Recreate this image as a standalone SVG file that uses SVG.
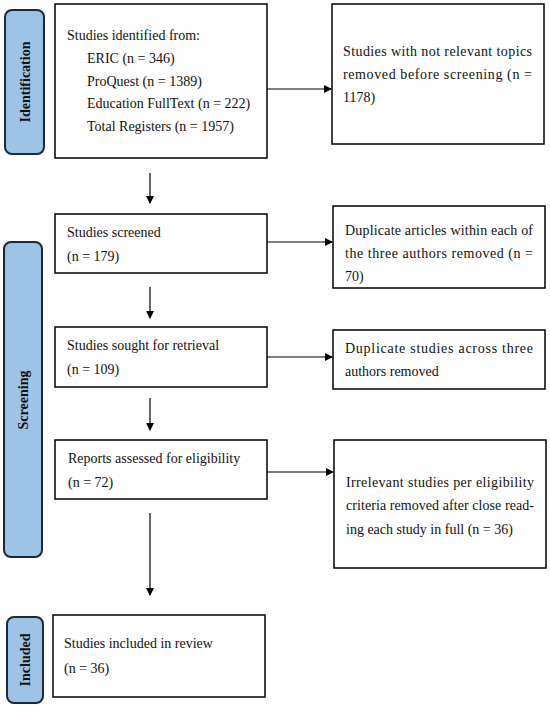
<svg xmlns="http://www.w3.org/2000/svg" width="550" height="707" viewBox="0 0 550 707">
<style>
.box{fill:#fff;stroke:#000;stroke-width:1.5}
.side{fill:#9dc3e6;stroke:#1c2a38;stroke-width:2}
.t{font-family:"Liberation Serif","Times New Roman",serif;font-size:14px;fill:#111}
.s{font-family:"Liberation Serif","Times New Roman",serif;font-size:14px;font-weight:bold;fill:#111}
.c{stroke:#000;stroke-width:1.2;fill:none}
</style>
<defs>
<marker id="ah" markerWidth="8" markerHeight="8" refX="7" refY="4" orient="auto" markerUnits="userSpaceOnUse">
<path d="M0,0 L8,4 L0,8 Z" fill="#000"/>
</marker>
</defs>
<rect width="550" height="707" fill="#fff"/>
<g id="side-identification">
<rect class="side" x="5" y="10" width="39" height="144" rx="7"/>
<text class="s" transform="translate(29.5,82) rotate(-90)" text-anchor="middle">Identification</text>
</g>
<g id="side-screening">
<rect class="side" x="4" y="242" width="38" height="315" rx="7"/>
<text class="s" transform="translate(28,400) rotate(-90)" text-anchor="middle">Screening</text>
</g>
<g id="side-included">
<rect class="side" x="7" y="617" width="36" height="86" rx="7"/>
<text class="s" transform="translate(30,660) rotate(-90)" text-anchor="middle">Included</text>
</g>
<g id="n-identified">
<rect class="box" x="55" y="4" width="212" height="154"/>
<text class="t" x="67" y="40">Studies identified from:</text>
<text class="t" x="87" y="63">ERIC (n = 346)</text>
<text class="t" x="87" y="86">ProQuest (n = 1389)</text>
<text class="t" x="87" y="108">Education FullText (n = 222)</text>
<text class="t" x="87" y="131">Total Registers (n = 1957)</text>
</g>
<g id="n-removed-topics">
<rect class="box" x="332" y="4" width="212" height="140"/>
<text class="t" x="343" y="56" textLength="189" lengthAdjust="spacing">Studies with not relevant topics</text>
<text class="t" x="343" y="79" textLength="189" lengthAdjust="spacing">removed before screening (n =</text>
<text class="t" x="343" y="102">1178)</text>
</g>
<g id="n-screened">
<rect class="box" x="55" y="214" width="212" height="59"/>
<text class="t" x="67" y="237">Studies screened</text>
<text class="t" x="67" y="261">(n = 179)</text>
</g>
<g id="n-dup-within">
<rect class="box" x="333" y="206" width="212" height="82"/>
<text class="t" x="345" y="235" textLength="188" lengthAdjust="spacing">Duplicate articles within each of</text>
<text class="t" x="345" y="258" textLength="188" lengthAdjust="spacing">the three authors removed (n =</text>
<text class="t" x="345" y="281">70)</text>
</g>
<g id="n-sought">
<rect class="box" x="55" y="327" width="212" height="60"/>
<text class="t" x="67" y="350">Studies sought for retrieval</text>
<text class="t" x="67" y="374">(n = 109)</text>
</g>
<g id="n-dup-across">
<rect class="box" x="333" y="330" width="212" height="59"/>
<text class="t" x="345" y="353" textLength="188" lengthAdjust="spacing">Duplicate studies across three</text>
<text class="t" x="345" y="376">authors removed</text>
</g>
<g id="n-reports">
<rect class="box" x="55" y="440" width="212" height="59"/>
<text class="t" x="68" y="463">Reports assessed for eligibility</text>
<text class="t" x="68" y="487">(n = 72)</text>
</g>
<g id="n-irrelevant">
<rect class="box" x="334" y="440" width="212" height="128"/>
<text class="t" x="346" y="487" textLength="188" lengthAdjust="spacing">Irrelevant studies per eligibility</text>
<text class="t" x="346" y="510" textLength="188" lengthAdjust="spacing">criteria removed after close read-</text>
<text class="t" x="346" y="534">ing each study in full (n = 36)</text>
</g>
<g id="n-included">
<rect class="box" x="53" y="615" width="212" height="82"/>
<text class="t" x="64" y="648">Studies included in review</text>
<text class="t" x="64" y="673">(n = 36)</text>
</g>
<g id="connectors">
<line class="c" x1="267" y1="89" x2="331" y2="89" marker-end="url(#ah)"/>
<line class="c" x1="150" y1="173" x2="150" y2="203" marker-end="url(#ah)"/>
<line class="c" x1="267" y1="242" x2="332" y2="242" marker-end="url(#ah)"/>
<line class="c" x1="150" y1="287" x2="150" y2="318" marker-end="url(#ah)"/>
<line class="c" x1="267" y1="357" x2="332" y2="357" marker-end="url(#ah)"/>
<line class="c" x1="150" y1="398" x2="150" y2="430" marker-end="url(#ah)"/>
<line class="c" x1="267" y1="472" x2="333" y2="472" marker-end="url(#ah)"/>
<line class="c" x1="150" y1="513" x2="150" y2="595" marker-end="url(#ah)"/>
</g>
</svg>
